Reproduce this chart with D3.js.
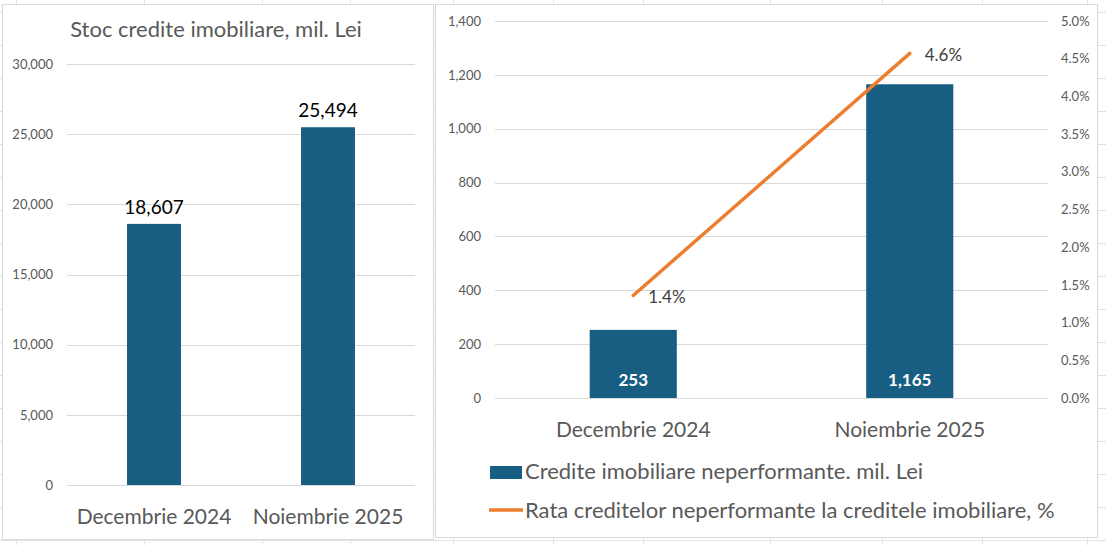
<!DOCTYPE html>
<html>
<head>
<meta charset="utf-8">
<script src="https://cdn.jsdelivr.net/npm/d3@7"></script>
<style>
  body { margin: 0; background: #fff; }
  svg text { font-family: Lato, "Open Sans", sans-serif; }
</style>
</head>
<body>
<svg id="chart" width="1106" height="545"></svg>
<script>
/*  Data  */
const categories   = ["Decembrie 2024", "Noiembrie 2025"];
const stockValues  = [18607, 25494];          // mil. Lei
const nplValues    = [253, 1165];             // mil. Lei
const nplRate      = [1.36, 4.57];            // %
const leftTicks    = [0, 5000, 10000, 15000, 20000, 25000, 30000];
const rightTicks   = [0, 200, 400, 600, 800, 1000, 1200, 1400];
const rateTicks    = [0, 0.5, 1, 1.5, 2, 2.5, 3, 3.5, 4, 4.5, 5];

const barColor  = "#175e82",
      lineColor = "#ed7d31",
      axisText  = "#595959",
      gridColor = "#d9d9d9";

const svg = d3.select("#chart");

/* ---------- spreadsheet background ---------- */
const sheetCols = [16, 144, 262, 350, 453, 553, 643, 770, 882, 982, 1087];
const sheetRows = d3.range(12, 545, 33);
const bg = svg.append("g").attr("stroke", "#e3e3e3").attr("stroke-width", 1);
bg.selectAll(".col").data(sheetCols).join("line")
  .attr("x1", d => d + 0.5).attr("x2", d => d + 0.5)
  .attr("y1", 0).attr("y2", 545);
bg.selectAll(".row").data(sheetRows).join("line")
  .attr("x1", 0).attr("x2", 1106)
  .attr("y1", d => d + 0.5).attr("y2", d => d + 0.5);

/* ---------- panels ---------- */
svg.append("rect").attr("x", 2.5).attr("y", 4.5).attr("width", 431).attr("height", 535)
  .attr("fill", "#fff").attr("stroke", gridColor);
svg.append("rect").attr("x", 435.5).attr("y", 4.5).attr("width", 662).attr("height", 533)
  .attr("fill", "#fff").attr("stroke", gridColor);

/* ========== LEFT CHART ========== */
const left = svg.append("g");

const xL = d3.scaleBand().domain(categories).range([67, 415]).padding(0);
const yL = d3.scaleLinear().domain([0, 30000]).range([485, 64]);

left.append("text")
  .attr("x", 216).attr("y", 37)
  .attr("text-anchor", "middle")
  .attr("fill", axisText)
  .attr("font-size", 22)
  .text("Stoc credite imobiliare, mil. Lei");

left.selectAll(".grid").data(leftTicks).join("line")
  .attr("x1", 67).attr("x2", 415)
  .attr("y1", d => Math.round(yL(d)) + 0.5).attr("y2", d => Math.round(yL(d)) + 0.5)
  .attr("stroke", gridColor);

const yAxisL = left.append("g")
  .attr("transform", "translate(53,0)")
  .call(d3.axisLeft(yL).tickValues(leftTicks).tickFormat(d3.format(",")).tickSize(0).tickPadding(0));
yAxisL.select(".domain").remove();
yAxisL.selectAll("text").attr("fill", axisText).attr("font-size", 13)
  .style("font-family", "Lato, sans-serif");

const lw = xL.bandwidth() * 0.31;
left.selectAll(".bar").data(stockValues).join("rect")
  .attr("x", (d, i) => xL(categories[i]) + (xL.bandwidth() - lw) / 2)
  .attr("width", lw)
  .attr("y", d => yL(d))
  .attr("height", d => yL(0) - yL(d))
  .attr("fill", barColor);

left.selectAll(".val").data(stockValues).join("text")
  .attr("x", (d, i) => xL(categories[i]) + xL.bandwidth() / 2)
  .attr("y", d => yL(d) - 10)
  .attr("text-anchor", "middle")
  .attr("font-size", 19)
  .attr("fill", "#000")
  .text(d => d3.format(",")(d));

left.selectAll(".cat").data(categories).join("text")
  .attr("x", d => xL(d) + xL.bandwidth() / 2)
  .attr("y", 524)
  .attr("text-anchor", "middle")
  .attr("font-size", 21)
  .attr("fill", axisText)
  .text(d => d);

/* ========== RIGHT CHART ========== */
const right = svg.append("g");

const xR = d3.scaleBand().domain(categories).range([495, 1048]).padding(0);
const yR = d3.scaleLinear().domain([0, 1400]).range([398, 21]);
const yP = d3.scaleLinear().domain([0, 5]).range([398, 21]);

right.selectAll(".grid").data(rightTicks).join("line")
  .attr("x1", 495).attr("x2", 1048)
  .attr("y1", d => Math.round(yR(d)) + 0.5).attr("y2", d => Math.round(yR(d)) + 0.5)
  .attr("stroke", gridColor);

const yAxisR = right.append("g")
  .attr("transform", "translate(481,0)")
  .call(d3.axisLeft(yR).tickValues(rightTicks).tickFormat(d3.format(",")).tickSize(0).tickPadding(0));
yAxisR.select(".domain").remove();
yAxisR.selectAll("text").attr("fill", axisText).attr("font-size", 13)
  .style("font-family", "Lato, sans-serif");

const yAxisP = right.append("g")
  .attr("transform", "translate(1061,0)")
  .call(d3.axisRight(yP).tickValues(rateTicks).tickFormat(d => d3.format(".1f")(d) + "%").tickSize(0).tickPadding(0));
yAxisP.select(".domain").remove();
yAxisP.selectAll("text").attr("fill", axisText).attr("font-size", 13)
  .style("font-family", "Lato, sans-serif");

const rw = xR.bandwidth() * 0.315;
right.selectAll(".bar").data(nplValues).join("rect")
  .attr("x", (d, i) => xR(categories[i]) + (xR.bandwidth() - rw) / 2)
  .attr("width", rw)
  .attr("y", d => yR(d))
  .attr("height", d => yR(0) - yR(d))
  .attr("fill", barColor);

right.selectAll(".val").data(nplValues).join("text")
  .attr("x", (d, i) => xR(categories[i]) + xR.bandwidth() / 2)
  .attr("y", yR(0) - 12)
  .attr("text-anchor", "middle")
  .attr("font-size", 17)
  .attr("font-weight", "bold")
  .attr("fill", "#fff")
  .text(d => d3.format(",")(d));

const lineGen = d3.line()
  .x((d, i) => xR(categories[i]) + xR.bandwidth() / 2)
  .y(d => yP(d));

right.append("path")
  .datum(nplRate)
  .attr("d", lineGen)
  .attr("fill", "none")
  .attr("stroke", lineColor)
  .attr("stroke-width", 3.5)
  .attr("stroke-linecap", "round");

right.selectAll(".rate").data(nplRate).join("text")
  .attr("x", (d, i) => xR(categories[i]) + xR.bandwidth() / 2 + 15)
  .attr("y", d => yP(d) + 8)
  .attr("font-size", 17)
  .attr("fill", "#404040")
  .text(d => d3.format(".1f")(d) + "%");

right.selectAll(".cat").data(categories).join("text")
  .attr("x", d => xR(d) + xR.bandwidth() / 2)
  .attr("y", 437)
  .attr("text-anchor", "middle")
  .attr("font-size", 21)
  .attr("fill", axisText)
  .text(d => d);

/* --- legend --- */
const legend = right.append("g");
legend.append("rect")
  .attr("x", 490).attr("y", 466).attr("width", 32).attr("height", 13)
  .attr("fill", barColor);
legend.append("text")
  .attr("x", 525).attr("y", 479)
  .attr("font-size", 22).attr("fill", axisText)
  .text("Credite imobiliare neperformante. mil. Lei");
legend.append("line")
  .attr("x1", 489).attr("x2", 523).attr("y1", 510).attr("y2", 510)
  .attr("stroke", lineColor).attr("stroke-width", 3.5);
legend.append("text")
  .attr("x", 525).attr("y", 518)
  .attr("font-size", 22).attr("fill", axisText)
  .text("Rata creditelor neperformante la creditele imobiliare, %");
</script>
</body>
</html>
